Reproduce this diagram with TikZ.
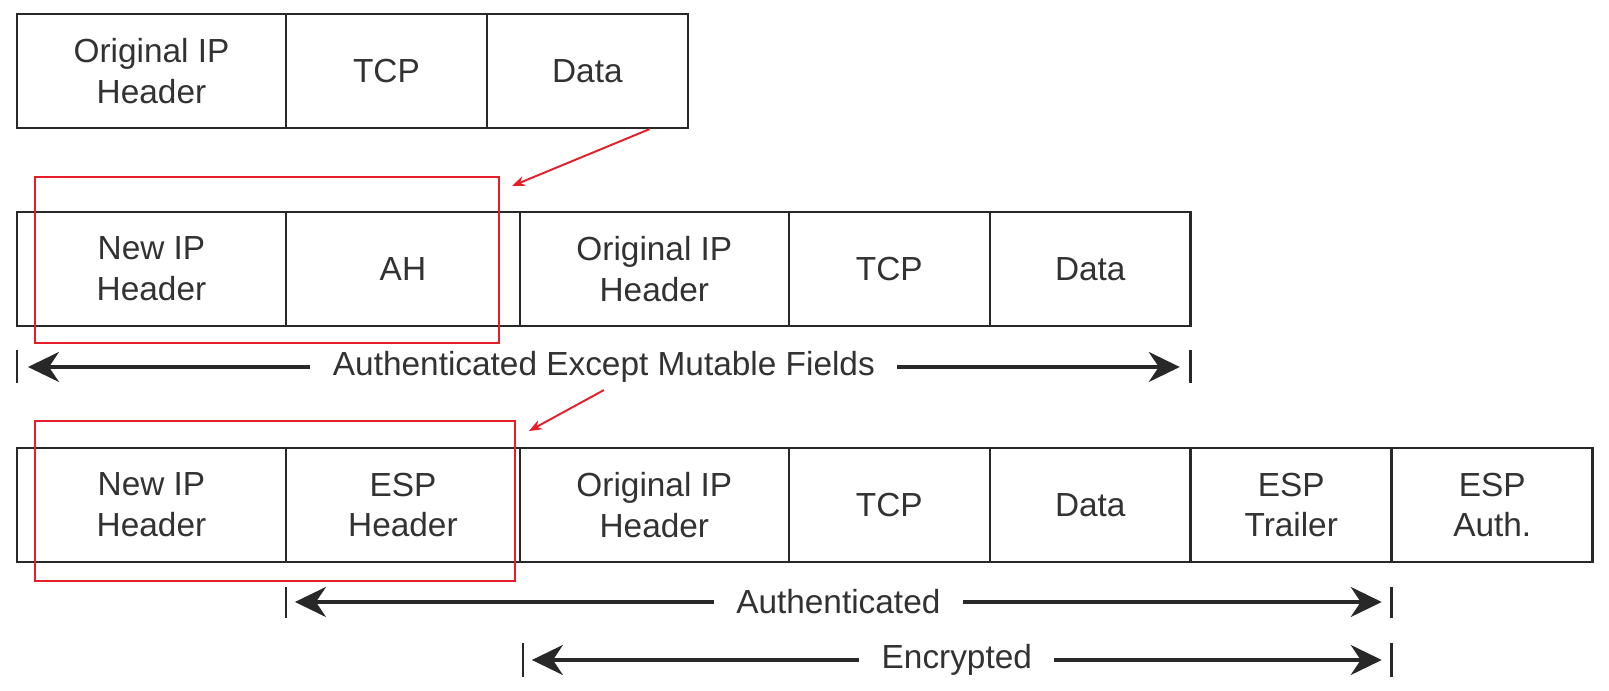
\documentclass[tikz,border=0pt]{standalone}
\usepackage{fontspec}
\setmainfont{Liberation Sans}
\usetikzlibrary{positioning,calc,arrows.meta}
\definecolor{boxline}{RGB}{40,40,40}
\definecolor{boxtext}{RGB}{50,50,50}
\definecolor{hired}{RGB}{230,30,40}
\tikzset{
  field/.style={draw=boxline, line width=1.5pt, outer sep=0pt, inner sep=0pt,
    minimum height=2.28cm, align=center, text=boxtext,
    font=\fontsize{19pt}{23.3pt}\selectfont},
  widefield/.style={field, minimum width=5.38cm},
  midfield/.style={field, minimum width=4.68cm},
  narrowfield/.style={field, minimum width=4.02cm},
  hilite/.style={draw=hired, line width=1.1pt, inner sep=0pt, outer sep=0pt},
  redarrow/.style={draw=hired, line width=1.1pt, -{Stealth[length=0.26cm,width=0.2cm]}},
  tickline/.style={draw=boxline, line width=1.6pt},
  dimarrow/.style={draw=boxline, line width=1.9pt,
    {Stealth[length=0.62cm,width=0.6cm,inset=0.2cm]}-{Stealth[length=0.62cm,width=0.6cm,inset=0.2cm]}},
  dimlabel/.style={fill=white, text=boxtext, inner xsep=0.45cm,
    font=\fontsize{19pt}{23.3pt}\selectfont}
}
\begin{document}
\begin{tikzpicture}[x=0.02cm,y=-0.02cm]
  \useasboundingbox (0,0) rectangle (1609,690);
  % plain packet
  \node[widefield, anchor=north west] (ip1) at (17,14) {Original IP\\Header};
  \node[narrowfield, right=0pt of ip1] (tcp1) {TCP};
  \node[narrowfield, right=0pt of tcp1] (data1) {Data};
  % AH tunnel mode
  \node[widefield, anchor=north west] (newip2) at (17,212) {New IP\\Header};
  \node[midfield, right=0pt of newip2] (ah2) {AH};
  \node[widefield, right=0pt of ah2] (ip2) {Original IP\\Header};
  \node[narrowfield, right=0pt of ip2] (tcp2) {TCP};
  \node[narrowfield, right=0pt of tcp2] (data2) {Data};
  % ESP tunnel mode
  \node[widefield, anchor=north west] (newip3) at (17,448) {New IP\\Header};
  \node[midfield, right=0pt of newip3] (esp3) {ESP\\Header};
  \node[widefield, right=0pt of esp3] (ip3) {Original IP\\Header};
  \node[narrowfield, right=0pt of ip3] (tcp3) {TCP};
  \node[narrowfield, right=0pt of tcp3] (data3) {Data};
  \node[narrowfield, right=0pt of data3] (trl3) {ESP\\Trailer};
  \node[narrowfield, right=0pt of trl3] (auth3) {ESP\\Auth.};
  % coverage of AH
  \draw[tickline] ($(newip2.south west)+(0,24)$) -- ++(0,33);
  \draw[tickline] ($(data2.south east)+(0,24)$) -- ++(0,33);
  \draw[dimarrow] ($(newip2.south west)+(11,41)$)
    -- node[dimlabel] (ahlbl) {Authenticated Except Mutable Fields}
    ($(data2.south east)+(-11,41)$);
  % coverage of ESP
  \draw[tickline] ($(esp3.south west)+(0,25)$) -- ++(0,31);
  \draw[tickline] ($(trl3.south east)+(0,25)$) -- ++(0,31);
  \draw[dimarrow] ($(esp3.south west)+(9,40)$)
    -- node[dimlabel] (authlbl) {Authenticated}
    ($(trl3.south east)+(-10,40)$);
  \draw[tickline] ($(ip3.south west)+(3,81)$) -- ++(0,34);
  \draw[tickline] ($(trl3.south east)+(0,81)$) -- ++(0,34);
  \draw[dimarrow] ($(ip3.south west)+(12,98)$)
    -- node[dimlabel] (enclbl) {Encrypted}
    ($(trl3.south east)+(-10,98)$);
  % red highlights
  \node[hilite, minimum width=9.28cm, minimum height=3.32cm] (ahframe) at (267,260) {};
  \node[hilite, minimum width=9.6cm, minimum height=3.2cm] (espframe) at (275,501) {};
  \draw[redarrow] ($(data1.south east)+(-38,1)$) -- ($(ahframe.north east)+(13,9)$);
  \draw[redarrow] (ahlbl.south) -- ($(espframe.north east)+(14,10)$);
\end{tikzpicture}
\end{document}
